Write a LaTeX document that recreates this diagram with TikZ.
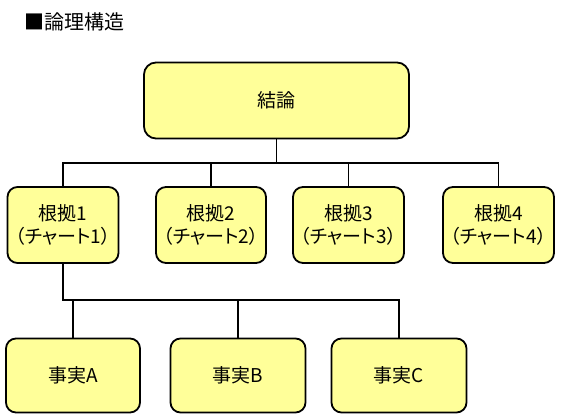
\documentclass[tikz,border=0pt]{standalone}
\usepackage{fontspec}
\setmainfont[RawFeature=+palt]{Noto Sans CJK JP}
\usepackage{tikz}
\definecolor{boxYellow}{RGB}{255, 255, 153}

\begin{document}
\begin{tikzpicture}[x=1pt, y=-1pt,
    kbox/.style={draw, line width=1.8pt, fill=boxYellow, rounded corners=10pt,
      align=center, inner sep=0pt, font=\fontsize{19}{23}\selectfont},
    link/.style={line width=1.6pt}]
      \useasboundingbox (0,0) rectangle (562,414);
      \node[anchor=west, font=\fontsize{20}{22}\selectfont] (title) at (21,22) {■論理構造};

      % top level
      \node[kbox, minimum width=265pt, minimum height=76pt, rounded corners=12pt] (concl) at (276.5,100.5) {結論};

      % reasons
      \node[kbox, minimum width=111pt, minimum height=76pt] (r1) at (63,225) {根拠1\\（チャート1）};
      \node[kbox, minimum width=110pt, minimum height=76pt] (r2) at (211,225) {根拠2\\（チャート2）};
      \node[kbox, minimum width=111pt, minimum height=76pt] (r3) at (348.5,225) {根拠3\\（チャート3）};
      \node[kbox, minimum width=111pt, minimum height=76pt] (r4) at (498.5,225) {根拠4\\（チャート4）};

      % facts
      \node[kbox, minimum width=134pt, minimum height=74pt] (fA) at (73,375.5) {事実A};
      \node[kbox, minimum width=135pt, minimum height=74pt] (fB) at (238,375.5) {事実B};
      \node[kbox, minimum width=135pt, minimum height=74pt] (fC) at (399,375.5) {事実C};

      \coordinate (busTop) at (276.5,163);
      \coordinate (busLow) at (63,300);

      \draw[link] (concl.south) -- (busTop);
      \draw[link] (r1.north) -- (r1.north |- busTop) -- (r4.north |- busTop) -- (r4.north);
      \draw[link] (r2.north) -- (r2.north |- busTop);
      \draw[link] (r3.north) -- (r3.north |- busTop);

      \draw[link] (r1.south) -- (busLow) -- (fC.north |- busLow) -- (fC.north);
      \draw[link] (fA.north) -- (fA.north |- busLow);
      \draw[link] (fB.north) -- (fB.north |- busLow);
    \end{tikzpicture}
\end{document}
